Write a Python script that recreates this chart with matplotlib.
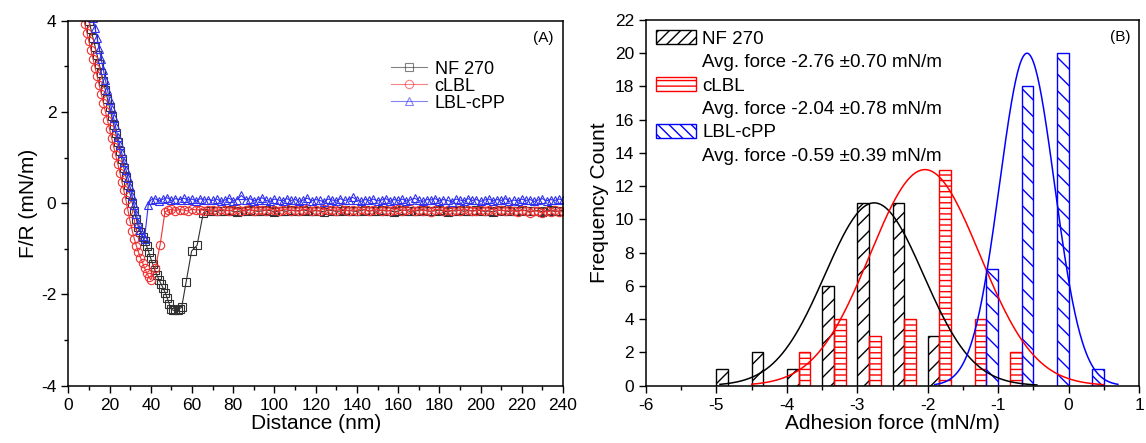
import numpy as np
import matplotlib
matplotlib.use("Agg")
import matplotlib.pyplot as plt
from matplotlib.patches import Patch

plt.rcParams['font.family'] = ['Liberation Sans', 'DejaVu Sans']
plt.rcParams['hatch.linewidth'] = 1.0
plt.rcParams['axes.unicode_minus'] = False

# ---- panel A: force curves (F/R vs distance) ----
# contact / jump-off part of each curve
nf_d = [8, 9, 10, 11, 12, 13, 14, 15, 16, 17, 18, 19, 20, 21, 22, 23, 24, 25,
        26, 27, 28, 29, 30, 31, 32, 33, 34, 35, 36, 37, 38, 39, 40, 41, 42, 43,
        44, 45, 46, 47, 48, 49, 50, 51, 52, 53, 54, 55, 57.2, 59.8, 62.5, 65.5, 68]
nf_f = [4.38, 4.19, 4.0, 3.81, 3.62, 3.43, 3.24, 3.05, 2.86, 2.67, 2.48, 2.29,
        2.10, 1.91, 1.72, 1.53, 1.34, 1.15, 0.96, 0.77, 0.58, 0.39, 0.20, 0.01,
        -0.18, -0.35, -0.52, -0.63, -0.73, -0.83, -0.94, -1.07, -1.21, -1.34,
        -1.47, -1.58, -1.68, -1.77, -1.86, -1.96, -2.08, -2.21, -2.32, -2.35,
        -2.34, -2.33, -2.31, -2.28, -1.72, -1.05, -0.92, -0.21, -0.17]

clbl_d = [6, 7, 8, 9, 10, 11, 12, 13, 14, 15, 16, 17, 18, 19, 20, 21, 22, 23,
          24, 25, 26, 27, 28, 29, 30, 31, 32, 33, 34, 35, 36, 37, 38, 39, 40,
          42.2, 44.5, 46.9, 48.5, 50, 52, 54, 56, 58, 60, 62, 64, 66, 68]
clbl_f = [4.31, 4.12, 3.93, 3.74, 3.55, 3.35, 3.16, 2.97, 2.78, 2.59, 2.39,
          2.20, 2.01, 1.82, 1.63, 1.43, 1.24, 1.05, 0.86, 0.67, 0.47, 0.28,
          0.06, -0.17, -0.40, -0.60, -0.78, -0.93, -1.07, -1.19, -1.30, -1.42,
          -1.52, -1.61, -1.68, -1.43, -0.92, -0.19, -0.15, -0.13, -0.16, -0.14,
          -0.15, -0.17, -0.13, -0.15, -0.14, -0.16, -0.15]

cpp_d = [10, 11, 12, 13, 14, 15, 16, 17, 18, 19, 20, 21, 22, 23, 24, 25, 26,
         27, 28, 29, 30, 31, 32, 33, 34, 35, 36, 37, 38.8, 40, 42, 44, 46, 48,
         50, 52, 54, 56, 58, 60, 62, 64, 66, 68]
cpp_f = [4.47, 4.26, 4.06, 3.83, 3.61, 3.38, 3.15, 2.93, 2.70, 2.48, 2.27,
         2.06, 1.86, 1.66, 1.46, 1.27, 1.09, 0.91, 0.73, 0.55, 0.35, 0.15,
         -0.04, -0.24, -0.43, -0.59, -0.71, -0.78, -0.03, 0.07, 0.10, 0.05,
         0.09, 0.12, 0.06, 0.10, 0.08, 0.11, 0.07, 0.09, 0.05, 0.10, 0.07, 0.08]

# flat (non-contact) part, shared distance grid
flat_d = list(range(70, 241, 2))
nf_flat = [-0.17, -0.18, -0.16, -0.17, -0.15, -0.18, -0.19, -0.16, -0.17, -0.14,
           -0.16, -0.18, -0.17, -0.15, -0.16, -0.19, -0.17, -0.16, -0.18, -0.15,
           -0.17, -0.16, -0.14, -0.17, -0.18, -0.16, -0.17, -0.19, -0.15, -0.16,
           -0.18, -0.17, -0.15, -0.16, -0.17, -0.18, -0.16, -0.14, -0.17, -0.16,
           -0.18, -0.15, -0.17, -0.16, -0.19, -0.17, -0.15, -0.16, -0.18, -0.17,
           -0.16, -0.14, -0.17, -0.18, -0.16, -0.15, -0.17, -0.19, -0.16, -0.17,
           -0.15, -0.18, -0.16, -0.17, -0.15, -0.16, -0.18, -0.17, -0.19, -0.16,
           -0.15, -0.17, -0.18, -0.16, -0.17, -0.15, -0.16, -0.18, -0.17, -0.16,
           -0.19, -0.17, -0.15, -0.18, -0.17, -0.16]
clbl_flat = [-0.14, -0.16, -0.13, -0.15, -0.17, -0.14, -0.12, -0.16, -0.15, -0.13,
             -0.17, -0.15, -0.14, -0.16, -0.12, -0.15, -0.17, -0.14, -0.13, -0.16,
             -0.15, -0.18, -0.14, -0.13, -0.16, -0.15, -0.17, -0.12, -0.15, -0.14,
             -0.16, -0.13, -0.15, -0.17, -0.14, -0.16, -0.12, -0.15, -0.18, -0.14,
             -0.13, -0.16, -0.15, -0.17, -0.14, -0.12, -0.16, -0.15, -0.13, -0.17,
             -0.14, -0.16, -0.15, -0.19, -0.14, -0.13, -0.16, -0.15, -0.17, -0.14,
             -0.16, -0.13, -0.15, -0.18, -0.16, -0.14, -0.17, -0.15, -0.13, -0.16,
             -0.15, -0.17, -0.14, -0.16, -0.19, -0.15, -0.17, -0.21, -0.16, -0.18,
             -0.22, -0.17, -0.19, -0.15, -0.20, -0.18]
cpp_flat = [0.06, 0.09, 0.04, 0.07, 0.11, 0.05, 0.08, 0.17, 0.07, 0.10,
            0.05, 0.08, 0.12, 0.06, 0.04, 0.09, 0.07, 0.05, 0.10, 0.06,
            0.08, 0.04, 0.07, 0.11, 0.05, 0.08, 0.06, 0.03, 0.09, 0.07,
            0.05, 0.10, 0.06, 0.08, 0.13, 0.07, 0.04, 0.08, 0.06, 0.09,
            0.05, 0.07, 0.10, 0.04, 0.08, 0.06, 0.09, 0.05, 0.07, 0.11,
            0.06, 0.04, 0.08, 0.07, 0.10, 0.05, 0.08, 0.06, 0.03, 0.09,
            0.07, 0.05, 0.10, 0.06, 0.08, 0.04, 0.07, 0.09, 0.05, 0.08,
            0.06, 0.10, 0.04, 0.07, 0.05, 0.09, 0.06, 0.08, 0.04, 0.07,
            0.10, 0.05, 0.08, 0.06, 0.09, 0.07]

# ---- panel B: adhesion force histograms ----
labels = ['NF 270', 'cLBL', 'LBL-cPP']
nf_bins = [-5.0, -4.5, -4.0, -3.5, -3.0, -2.5, -2.0]
nf_counts = [1, 2, 1, 6, 11, 11, 3]
clbl_bins = [-4.0, -3.5, -3.0, -2.5, -2.0, -1.5, -1.0]
clbl_counts = [2, 4, 3, 4, 13, 4, 2]
cpp_bins = [-1.5, -1.0, -0.5, 0.0]
cpp_counts = [7, 18, 20, 1]
avg_force = [-2.76, -2.04, -0.59]
std_force = [0.70, 0.78, 0.39]
fit_peak = [11, 13, 20]
fit_range = [(-4.95, -0.45), (-4.5, 0.5), (-1.9, 0.7)]

c_black = '#303030'
c_red = '#f03030'
c_blue = '#3030f0'

fig = plt.figure(figsize=(11.46, 4.43), dpi=100)
axA = fig.add_axes([0.0596, 0.1293, 0.4317, 0.8240])
axB = fig.add_axes([0.5637, 0.1293, 0.4302, 0.8256])

# panel A
axA.plot(nf_d + flat_d, nf_f + nf_flat, color=c_black, marker='s', mfc='none',
         ms=5.5, mew=0.8, lw=0.8, label=labels[0])
axA.plot(clbl_d + flat_d, clbl_f + clbl_flat, color=c_red, marker='o', mfc='none',
         ms=6, mew=0.8, lw=0.8, label=labels[1])
axA.plot(cpp_d + flat_d, cpp_f + cpp_flat, color=c_blue, marker='^', mfc='none',
         ms=6, mew=0.8, lw=0.8, label=labels[2])
axA.set_xlim(0, 240)
axA.set_ylim(-4, 4)
axA.set_xticks(np.arange(0, 241, 20))
axA.set_xticks(np.arange(0, 241, 10), minor=True)
axA.set_yticks([-4, -2, 0, 2, 4])
axA.set_yticks(np.arange(-4, 5, 1), minor=True)
axA.set_xlabel('Distance (nm)', fontsize=15, labelpad=1)
axA.set_ylabel('F/R (mN/m)', fontsize=15, labelpad=2)
legA = axA.legend(loc='upper left', bbox_to_anchor=(0.62, 0.935), frameon=False,
                  fontsize=13, handlelength=2.0, handletextpad=0.4,
                  labelspacing=0.0, numpoints=1)
for h in legA.legend_handles:
    h.set_alpha(0.6)
axA.text(0.96, 0.953, '(A)', transform=axA.transAxes, ha='center', va='center',
         fontsize=11)

# panel B
w = 1 / 6
axB.bar(np.array(nf_bins), nf_counts, width=w, align='edge', facecolor='none',
        edgecolor='black', hatch='//', lw=1.0)
axB.bar(np.array(clbl_bins) + w, clbl_counts, width=w, align='edge', facecolor='none',
        edgecolor='red', hatch='---', lw=1.0)
axB.bar(np.array(cpp_bins) + 2 * w, cpp_counts, width=w, align='edge', facecolor='none',
        edgecolor='blue', hatch='\\\\', lw=1.0)
for i, col in enumerate(['black', 'red', 'blue']):
    xs = np.linspace(fit_range[i][0], fit_range[i][1], 300)
    ys = fit_peak[i] * np.exp(-0.5 * ((xs - avg_force[i]) / std_force[i]) ** 2)
    axB.plot(xs, ys, color=col, lw=1.1)

axB.set_xlim(-6, 1)
axB.set_ylim(0, 22)
axB.set_xticks(np.arange(-6, 2, 1))
axB.set_xticks(np.arange(-6, 1.1, 0.5), minor=True)
axB.set_yticks(np.arange(0, 23, 2))
axB.set_xlabel('Adhesion force (mN/m)', fontsize=15, labelpad=1)
axB.set_ylabel('Frequency Count', fontsize=15, labelpad=4)

blank = Patch(facecolor='none', edgecolor='none')
handles = [Patch(facecolor='none', edgecolor='black', hatch='///'), blank,
           Patch(facecolor='none', edgecolor='red', hatch='---'), blank,
           Patch(facecolor='none', edgecolor='blue', hatch='\\\\\\'), blank]
texts = []
for i in range(3):
    texts.append(labels[i])
    texts.append('Avg. force %.2f \u00b1%.2f mN/m' % (avg_force[i], std_force[i]))
axB.legend(handles, texts, loc='upper left', bbox_to_anchor=(0.0, 1.0),
           frameon=False, fontsize=13.5, handlelength=2.1, handleheight=0.75,
           handletextpad=0.35, labelspacing=0.32, borderaxespad=0.15)
axB.text(0.961, 0.953, '(B)', transform=axB.transAxes, ha='center', va='center',
         fontsize=11)

for ax in (axA, axB):
    ax.tick_params(which='major', direction='out', length=5, width=1, labelsize=12.5)
    ax.tick_params(which='minor', direction='out', length=3, width=1)
    for s in ax.spines.values():
        s.set_linewidth(1.1)

fig.savefig('out.png', dpi=100)
